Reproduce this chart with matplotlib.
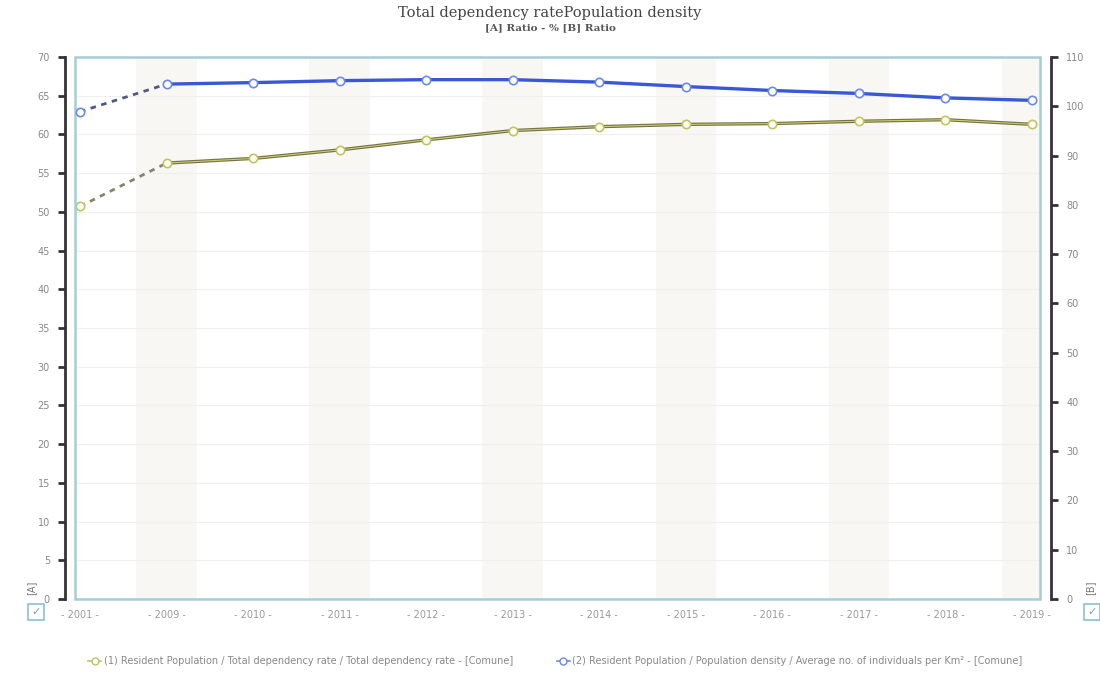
import matplotlib
matplotlib.use("Agg")
import matplotlib.pyplot as plt
from matplotlib.lines import Line2D

years = ["2001", "2009", "2010", "2011", "2012", "2013", "2014", "2015", "2016", "2017", "2018", "2019"]
dependency_rate = [50.7, 56.3, 56.9, 58.0, 59.3, 60.5, 61.0, 61.3, 61.4, 61.7, 61.9, 61.3]
population_density = [98.9, 104.5, 104.8, 105.2, 105.4, 105.4, 104.9, 104.0, 103.2, 102.6, 101.7, 101.2]
left_ticks = list(range(0, 71, 5))
right_ticks = list(range(0, 111, 10))

title = "Total dependency ratePopulation density"
subtitle = "[A] Ratio - % [B] Ratio"
legend_labels = [
    "(1) Resident Population / Total dependency rate / Total dependency rate - [Comune]",
    "(2) Resident Population / Population density / Average no. of individuals per Km² - [Comune]",
]

W, H = 1100, 675
fig = plt.figure(figsize=(W / 100, H / 100), dpi=100)
fig.patch.set_facecolor("white")

L, R, T, B = 75, 1040, 57, 599
ax = fig.add_axes([L / W, 1 - B / H, (R - L) / W, (B - T) / H])
ax2 = ax.twinx()

x = list(range(len(years)))
ax.set_xlim(-5 / 86.5, len(years) - 1 + 8 / 86.5)
ax.set_ylim(0, 70)
ax2.set_ylim(0, 110)

# faint background bands
for i in x:
    if i % 2 == 1:
        ax.axvspan(i - 0.35, i + 0.35, color="#f9f7f4", zorder=0, lw=0)

# gridlines
for t in left_ticks[1:-1]:
    ax.axhline(t, color="#efefef", lw=0.8, zorder=0.5)

yel_line = "#74744c"
yel_mark = "#c4c45c"
blue_line = "#3a58d6"
blue_mark = "#6a8ae8"

# dashed first segments
ax.plot(x[:2], dependency_rate[:2], ls=(0, (2, 2)), color="#85856c", lw=2, zorder=3)
ax2.plot(x[:2], population_density[:2], ls=(0, (2, 2)), color="#505a80", lw=2, zorder=3)
# solid segments
ax.plot(x[1:], dependency_rate[1:], color=yel_line, lw=2.4, zorder=3)
ax.plot(x[1:], dependency_rate[1:], color="#d4d46a", lw=0.7, zorder=3.1)
ax2.plot(x[1:], population_density[1:], color=blue_line, lw=2.4, zorder=3)
ax.plot(x, dependency_rate, ls="none", marker="o", ms=6, mfc="white", mec=yel_mark, mew=1.2, zorder=4)
ax2.plot(x, population_density, ls="none", marker="o", ms=6, mfc="white", mec=blue_mark, mew=1.2, zorder=4)

# frame
for a in (ax, ax2):
    for s in a.spines.values():
        s.set_visible(False)
ax.add_patch(plt.Rectangle((0, 0), 1, 1, transform=ax.transAxes, fill=False,
                           ec="#a4cdd6", lw=1.8, zorder=5, clip_on=False))

# left axis
ax.spines["left"].set_visible(True)
ax.spines["left"].set_position(("outward", 7))
ax.spines["left"].set_color("#333333")
ax.spines["left"].set_linewidth(2)
ax.set_yticks(left_ticks)
ax.set_yticklabels([str(t) for t in left_ticks])
ax.tick_params(axis="y", direction="out", length=5, width=2, color="#333333",
               labelsize=7, labelcolor="#888888", pad=6)

# right axis
ax2.spines["right"].set_visible(True)
ax2.spines["right"].set_position(("outward", 8))
ax2.spines["right"].set_color("#333333")
ax2.spines["right"].set_linewidth(2)
ax2.set_yticks(right_ticks)
ax2.set_yticklabels([str(t) for t in right_ticks])
ax2.tick_params(axis="y", direction="out", length=5, width=2, color="#333333",
                labelsize=7, labelcolor="#888888", pad=6)

# x axis
ax.set_xticks(x)
ax.set_xticklabels(["- " + y + " -" for y in years])
ax.tick_params(axis="x", length=0, labelsize=7, labelcolor="#999999", pad=8)

# titles
fig.text(0.5, 1 - 13 / H, title, ha="center", va="center", fontsize=10.5,
         family="DejaVu Serif", color="#444444")
fig.text(0.5, 1 - 28 / H, subtitle, ha="center", va="center", fontsize=7.5,
         family="DejaVu Serif", fontweight="bold", color="#555555")

# axis letter labels and checkboxes
fig.text(31 / W, 1 - 588 / H, "[A]", rotation=90, ha="center", va="center", fontsize=7, color="#777777")
fig.text(1090 / W, 1 - 588 / H, "[B]", rotation=90, ha="center", va="center", fontsize=7, color="#777777")
for cx in (36, 1092):
    fig.patches.append(plt.Rectangle(((cx - 8) / W, 1 - 620 / H), 16 / W, 16 / H,
                                     transform=fig.transFigure, fill=False, ec="#8cc0d0", lw=1.2))
    fig.text(cx / W, 1 - 612 / H, "✓", ha="center", va="center", fontsize=8, color="#6aa8c0")

# legend
handles = [
    Line2D([], [], color=yel_mark, lw=1.2, marker="o", ms=5, mfc="white", mec=yel_mark),
    Line2D([], [], color=blue_mark, lw=1.2, marker="o", ms=5, mfc="white", mec=blue_mark),
]
leg = fig.legend(handles, legend_labels, loc="center", bbox_to_anchor=(0.505, 1 - 661 / H),
                 ncol=2, frameon=False, fontsize=7, handlelength=1.3, handletextpad=0.3,
                 columnspacing=4.5)
for t in leg.get_texts():
    t.set_color("#888888")

fig.savefig("out.png", dpi=100, facecolor="white")
